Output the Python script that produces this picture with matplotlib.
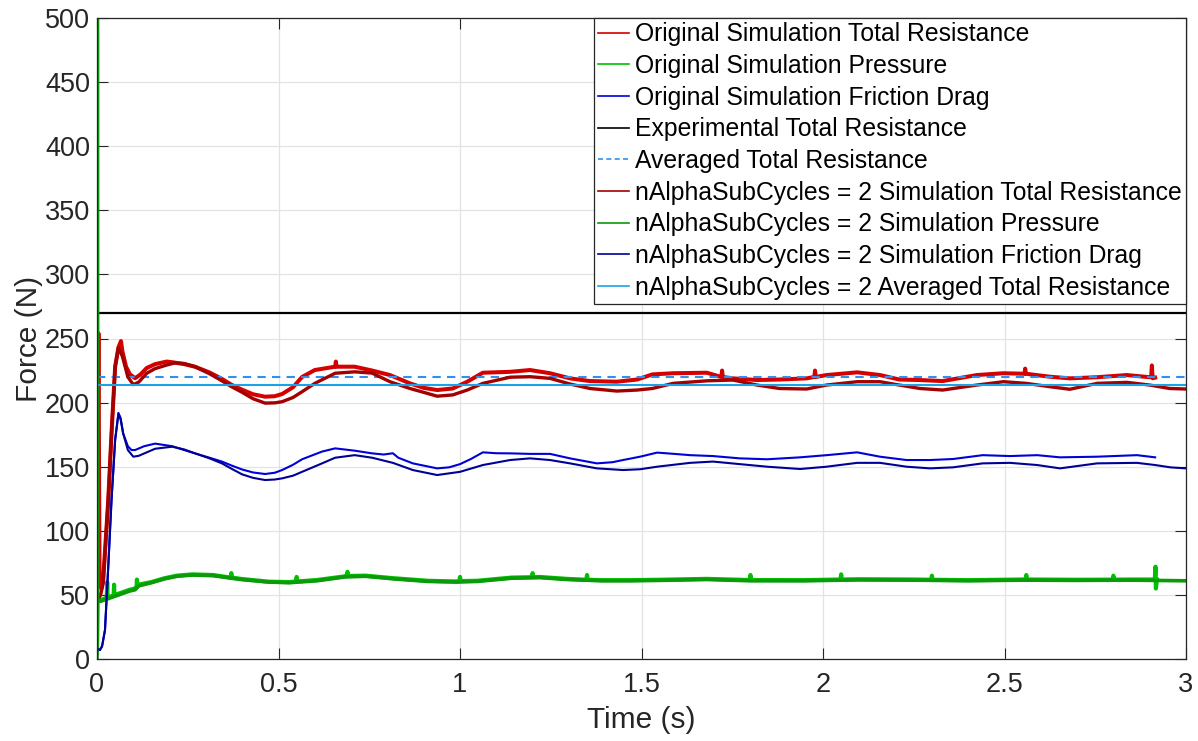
import matplotlib
matplotlib.use("Agg")
import matplotlib.pyplot as plt
from matplotlib.lines import Line2D

plt.rcParams['font.family'] = ['Liberation Sans', 'DejaVu Sans']

# ---- Original simulation ----
orig_total_t = [0.000, 0.004, 0.007, 0.012, 0.017, 0.031, 0.040, 0.050, 0.059, 0.066, 0.070,
                0.080, 0.091, 0.105, 0.120, 0.137, 0.160, 0.192, 0.207, 0.240, 0.270, 0.310,
                0.344, 0.370, 0.400, 0.430, 0.463, 0.490, 0.510, 0.540, 0.565, 0.600, 0.656,
                0.658, 0.660, 0.710, 0.758, 0.807, 0.862, 0.900, 0.937, 0.980, 1.020, 1.063,
                1.138, 1.193, 1.248, 1.303, 1.358, 1.432, 1.488, 1.530, 1.587, 1.680, 1.720,
                1.722, 1.724, 1.752, 1.818, 1.880, 1.955, 1.976, 1.978, 1.980, 2.010, 2.094,
                2.157, 2.210, 2.267, 2.330, 2.424, 2.497, 2.555, 2.557, 2.559, 2.625, 2.680,
                2.755, 2.837, 2.900, 2.904, 2.906, 2.908, 2.915]
orig_total_v = [45, 254, 62, 55, 62, 124, 176, 228, 243, 248, 240,
                228, 222, 219, 222, 227, 230, 232, 231.5, 230, 228, 223.5,
                218.5, 214, 210, 206.5, 204.6, 205, 206.7, 212, 220, 225.4, 228,
                232, 228, 228, 225, 221.5, 215, 211.5, 209.8, 211, 216.3, 223.3,
                224, 225.4, 222.9, 218.9, 216.8, 216.3, 218, 222, 222.9, 223.3, 220,
                225, 220, 218.9, 217.6, 218, 218.9, 220, 225, 220, 221.5, 223.6,
                221.5, 218, 217.6, 216.8, 221.5, 222.9, 222.5, 226.5, 222.5, 220.2, 218.9,
                219.8, 221.5, 219.8, 220, 229, 219, 219.5]

orig_press_t = [0.000, 0.002, 0.010, 0.020, 0.027, 0.028, 0.029, 0.040, 0.046, 0.047, 0.048,
                0.060, 0.070, 0.090, 0.105, 0.109, 0.110, 0.111, 0.115, 0.150, 0.186, 0.220,
                0.262, 0.320, 0.368, 0.370, 0.372, 0.396, 0.473, 0.530, 0.548, 0.550, 0.552,
                0.606, 0.683, 0.688, 0.690, 0.692, 0.740, 0.817, 0.912, 0.989, 0.998, 1.000,
                1.002, 1.047, 1.142, 1.198, 1.200, 1.202, 1.219, 1.295, 1.348, 1.350, 1.352,
                1.391, 1.467, 1.550, 1.680, 1.798, 1.800, 1.802, 1.950, 2.048, 2.050, 2.052,
                2.100, 2.250, 2.298, 2.300, 2.302, 2.400, 2.550, 2.558, 2.560, 2.562, 2.700,
                2.798, 2.800, 2.802, 2.850, 2.914, 2.916, 2.917, 2.920]
orig_press_v = [5, 48, 46, 47, 48, 60, 48, 49, 50, 58, 50,
                51, 52, 54, 55, 56, 62, 57, 58, 60, 63, 65,
                66, 65.5, 63.5, 67, 63.5, 62.5, 60.3, 60, 60.5, 64, 60.5,
                61.6, 64.5, 64.8, 68, 64.8, 65, 63, 61, 60.5, 60.6, 64,
                60.8, 61, 63.5, 63.8, 67, 63.8, 64, 62.5, 61.8, 65.5, 61.8,
                61.5, 61.5, 61.8, 62.5, 61.6, 65.5, 61.6, 61.5, 62, 66, 62,
                62.2, 62, 61.8, 65, 61.8, 61.5, 62, 62, 65.5, 62, 61.8,
                61.9, 65, 61.9, 62, 62, 72, 55, 62]

orig_fric_t = [0.000, 0.008, 0.014, 0.022, 0.031, 0.040, 0.050, 0.059, 0.065, 0.072, 0.085,
               0.095, 0.105, 0.130, 0.160, 0.207, 0.240, 0.270, 0.310, 0.344, 0.370, 0.400,
               0.430, 0.463, 0.490, 0.510, 0.540, 0.565, 0.620, 0.656, 0.710, 0.758, 0.790,
               0.815, 0.830, 0.870, 0.937, 0.970, 1.000, 1.030, 1.063, 1.100, 1.138, 1.193,
               1.248, 1.303, 1.377, 1.420, 1.449, 1.496, 1.543, 1.590, 1.634, 1.697, 1.771,
               1.846, 1.937, 2.010, 2.094, 2.157, 2.230, 2.295, 2.358, 2.440, 2.515, 2.590,
               2.653, 2.755, 2.865, 2.915]
orig_fric_v = [8, 7, 10, 22.6, 72, 124, 171, 192, 188, 176, 166,
               163, 163, 166, 168, 166, 163, 160.4, 157, 154, 151, 147.8,
               145.5, 144.3, 145.3, 147.4, 151.5, 155.8, 161.8, 164.3, 162.5, 160.4, 159.5,
               160.5, 157, 152.6, 148.7, 149.5, 152, 156, 161.2, 160.5, 160.4, 160,
               160, 156.5, 152.6, 153.5, 155.2, 157.8, 161, 160, 159, 158.3, 156.5,
               155.8, 157.3, 159, 161.2, 157.8, 155.2, 155.2, 156, 159, 158.3, 159,
               157.3, 157.8, 159, 157.3]

# ---- nAlphaSubCycles = 2 simulation ----
sub_total_t = [0.000, 0.010, 0.017, 0.031, 0.040, 0.050, 0.059, 0.070, 0.085, 0.100, 0.115,
               0.137, 0.160, 0.192, 0.215, 0.240, 0.270, 0.310, 0.344, 0.370, 0.400, 0.430,
               0.463, 0.490, 0.510, 0.540, 0.565, 0.600, 0.656, 0.710, 0.758, 0.807, 0.862,
               0.900, 0.937, 0.980, 1.020, 1.063, 1.138, 1.193, 1.248, 1.303, 1.358, 1.432,
               1.488, 1.530, 1.587, 1.680, 1.752, 1.818, 1.880, 1.955, 2.010, 2.094, 2.157,
               2.210, 2.267, 2.330, 2.424, 2.497, 2.560, 2.625, 2.680, 2.755, 2.837, 2.900,
               2.955, 3.000]
sub_total_v = [45, 50, 59, 124, 176, 228, 242.6, 236, 220, 214, 216,
               222.9, 226.5, 229.3, 231, 230.5, 228, 222.5, 217, 212.5, 208, 203,
               199.6, 199.8, 200.7, 204, 208.5, 215, 222.9, 224, 223, 216.3, 211,
               208, 205, 206, 209.8, 215, 219.8, 220.2, 218.9, 214.5, 211, 209,
               209.8, 211, 215, 217, 217.6, 213.7, 211, 210.6, 213.7, 216.3, 216.3,
               213.7, 211, 209.8, 213.7, 216.3, 215, 212.4, 210.4, 215, 215.8, 213.7,
               211, 210.6]

sub_press_t = [0.000, 0.001, 0.002, 0.010, 0.020, 0.030, 0.040, 0.050, 0.060, 0.070, 0.090,
               0.105, 0.115, 0.150, 0.186, 0.220, 0.262, 0.320, 0.396, 0.473, 0.530, 0.606,
               0.683, 0.740, 0.817, 0.912, 0.989, 1.047, 1.142, 1.219, 1.295, 1.391, 1.467,
               1.550, 1.680, 1.800, 1.950, 2.100, 2.250, 2.400, 2.550, 2.700, 2.850, 3.000]
sub_press_v = [0, 700, 47, 45, 46, 47, 48, 49, 50, 51, 53,
               54, 57, 59.5, 62.5, 64.5, 65.5, 65, 62, 60, 59.5, 61,
               64, 64.5, 62.5, 60.5, 60, 60.5, 63, 63.5, 62, 61, 61,
               61.3, 62, 61, 61, 61.7, 61.5, 61, 61.5, 61.3, 61.5, 61]

sub_fric_t = [0.000, 0.008, 0.014, 0.022, 0.031, 0.040, 0.050, 0.059, 0.065, 0.072, 0.085,
              0.100, 0.115, 0.160, 0.207, 0.240, 0.270, 0.310, 0.344, 0.370, 0.400, 0.430,
              0.463, 0.490, 0.510, 0.540, 0.565, 0.620, 0.656, 0.710, 0.758, 0.815, 0.870,
              0.937, 1.000, 1.063, 1.138, 1.193, 1.248, 1.303, 1.377, 1.449, 1.496, 1.543,
              1.634, 1.697, 1.771, 1.846, 1.937, 2.010, 2.094, 2.157, 2.230, 2.295, 2.358,
              2.440, 2.515, 2.590, 2.653, 2.755, 2.865, 2.915, 2.957, 3.000]
sub_fric_v = [8, 7, 10, 22.6, 72, 124, 171, 191, 187, 176, 163,
              157.8, 158.5, 164, 165.6, 163.5, 160.4, 156.5, 152.6, 148.5, 144, 141.3,
              139.6, 140, 140.9, 143, 146, 152.6, 157, 159, 157, 153, 147.4,
              143.5, 146, 151.3, 155.2, 156.5, 155.2, 152.6, 148.7, 147.4, 148, 150,
              153, 154, 152, 150, 148.2, 150, 153, 153, 150, 148.7, 149.5,
              152.6, 153, 151.3, 148.7, 152.6, 153, 151.3, 149.5, 148.7]

# ---- Reference levels ----
experimental_total = 270
orig_avg_total = 220
sub_avg_total = 214

x_ticks = [0, 0.5, 1, 1.5, 2, 2.5, 3]
x_tick_labels = ['0', '0.5', '1', '1.5', '2', '2.5', '3']
y_ticks = list(range(0, 501, 50))

labels = ['Original Simulation Total Resistance',
          'Original Simulation Pressure',
          'Original Simulation Friction Drag',
          'Experimental Total Resistance',
          'Averaged Total Resistance',
          'nAlphaSubCycles = 2 Simulation Total Resistance',
          'nAlphaSubCycles = 2 Simulation Pressure',
          'nAlphaSubCycles = 2 Simulation Friction Drag',
          'nAlphaSubCycles = 2 Averaged Total Resistance']
colors = ['#d40000', '#00c000', '#0000d8', '#000000', '#3090f0',
          '#a30000', '#0a9a0a', '#000096', '#1aa3e6']
dashed = ['-', '-', '-', '-', (0, (3, 2)), '-', '-', '-', '-']

fig = plt.figure(figsize=(11.98, 7.41), dpi=100)
ax = fig.add_axes([97 / 1198, 82 / 741, 1089 / 1198, 641 / 741])

ax.plot(orig_total_t, orig_total_v, color=colors[0], lw=2.9)
ax.plot(orig_press_t, orig_press_v, color=colors[1], lw=3.0)
ax.plot(orig_fric_t, orig_fric_v, color=colors[2], lw=1.5)
ax.axhline(experimental_total, color=colors[3], lw=1.6)
ax.axhline(orig_avg_total, color=colors[4], lw=1.5, ls=(0, (4, 3)))
ax.plot(sub_total_t, sub_total_v, color=colors[5], lw=2.4)
ax.plot(sub_press_t, sub_press_v, color=colors[6], lw=2.6)
ax.plot(sub_fric_t, sub_fric_v, color=colors[7], lw=1.5)
ax.axhline(sub_avg_total, color=colors[8], lw=1.5)

ax.set_xlim(0, 3)
ax.set_ylim(0, 500)
ax.set_xticks(x_ticks)
ax.set_xticklabels(x_tick_labels)
ax.set_yticks(y_ticks)
ax.grid(True, color='#e3e3e3', lw=0.9)
ax.set_axisbelow(True)
for s in ax.spines.values():
    s.set_color('#262626')
    s.set_linewidth(0.9)
ax.tick_params(direction='in', top=True, right=True, length=8, width=0.8,
               colors='#262626', labelsize=19.5)
ax.tick_params(axis='x', pad=9)
ax.tick_params(axis='y', pad=5)
ax.set_xlabel('Time (s)', fontsize=21.5, color='#262626', labelpad=6)
ax.set_ylabel('Force (N)', fontsize=21.5, color='#262626', labelpad=1)

handles = [Line2D([], [], color=c, lw=1.2, ls=d) for c, d in zip(colors, dashed)]
leg = ax.legend(handles, labels, loc='upper right', fontsize=17.8, frameon=True,
                fancybox=False, borderaxespad=0, handlelength=1.25,
                handletextpad=0.22, borderpad=0.18, labelspacing=0.31)
leg.get_frame().set_edgecolor('#262626')
leg.get_frame().set_linewidth(0.9)
leg.get_frame().set_alpha(1)

fig.savefig('out.png', dpi=100)
